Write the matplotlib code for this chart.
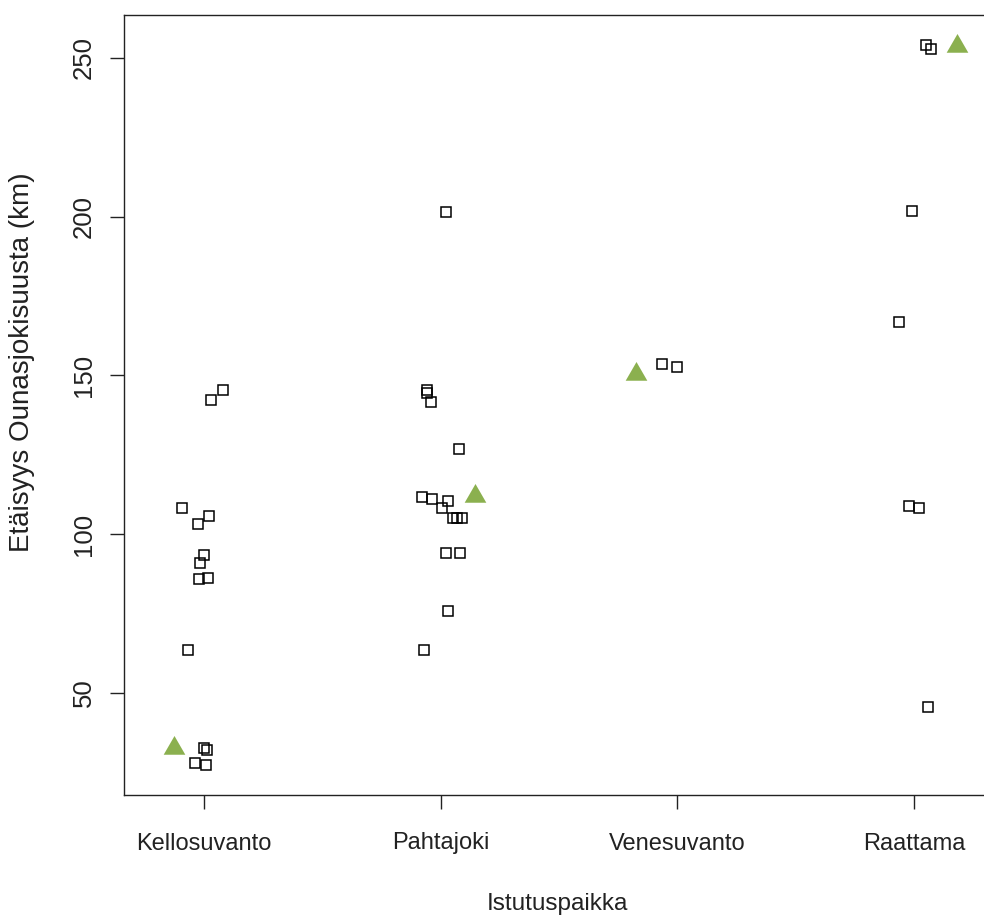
import numpy as np
import matplotlib
matplotlib.use("Agg")
import matplotlib.pyplot as plt

plt.rcParams['font.family'] = ['Liberation Sans', 'DejaVu Sans']

# categories on the x axis
sites = ["Kellosuvanto", "Pahtajoki", "Venesuvanto", "Raattama"]

# open squares (jittered x position, distance in km)
kello_x = [1.082, 1.028, 0.908, 1.021, 0.976, 1.001, 0.982, 0.980, 1.016, 0.931, 1.000, 1.014, 0.963, 1.010]
kello_y = [145.4, 142.3, 108.2, 105.8, 103.2, 93.5, 90.8, 86.0, 86.2, 63.5, 32.6, 32.0, 28.0, 27.4]

pahta_x = [2.024, 1.944, 1.941, 1.957, 2.076, 1.920, 1.965, 2.031, 2.007, 2.051, 2.070, 2.089, 2.024, 2.083, 2.031, 1.931]
pahta_y = [201.6, 145.4, 144.4, 141.6, 126.8, 111.6, 111.0, 110.6, 108.2, 105.2, 105.2, 105.2, 94.0, 94.0, 75.8, 63.5]

vene_x = [2.935, 2.999]
vene_y = [153.6, 152.8]

raat_x = [4.051, 4.072, 3.990, 3.938, 3.979, 4.020, 4.059]
raat_y = [254.1, 252.7, 201.8, 166.9, 108.9, 108.2, 45.5]

# green triangles (one per site)
tri_x = [0.875, 2.143, 2.826, 4.180]
tri_y = [32.8, 111.9, 150.4, 253.7]

yticks = [50, 100, 150, 200, 250]

fig = plt.figure(figsize=(9.84, 9.16), dpi=100)
ax = fig.add_axes([124/984, 121/916, (992-124)/984, 780/916])

sq_x = kello_x + pahta_x + vene_x + raat_x
sq_y = kello_y + pahta_y + vene_y + raat_y
ax.plot(sq_x, sq_y, ls='none', marker='s', ms=7.6, mfc='none', mec='black', mew=1.1)

tri = [(-1, -0.577), (1, -0.577), (0, 1.155)]
ax.plot(tri_x, tri_y, ls='none', marker=tri, ms=18, mfc='#8BB04F', mec='none')

ax.set_xlim(0.662, 0.662 + (992-124)/236.7)
ax.set_ylim(17.9, 263.5)

ax.set_xticks([1, 2, 3, 4])
ax.set_xticklabels(sites)
ax.set_yticks(yticks)
ax.set_yticklabels([str(v) for v in yticks], rotation=90, va='center', fontsize=18.5)

for s in ax.spines.values():
    s.set_linewidth(1.0)
    s.set_color('#222222')
ax.spines['right'].set_visible(False)

ax.tick_params(axis='both', length=10, width=1.0, color='#222222', labelcolor='#222222')
ax.tick_params(axis='x', pad=17, labelsize=17)
ax.tick_params(axis='y', pad=10)

fig.text(557/984, 1 - 904/916, "Istutuspaikka", ha='center', va='center', fontsize=17.5, color='#222222')
fig.text(22/984, 1 - 362/916, "Etäisyys Ounasjokisuusta (km)", ha='center', va='center', rotation=90,
         fontsize=20, color='#222222')

fig.savefig("out.png", dpi=100)
